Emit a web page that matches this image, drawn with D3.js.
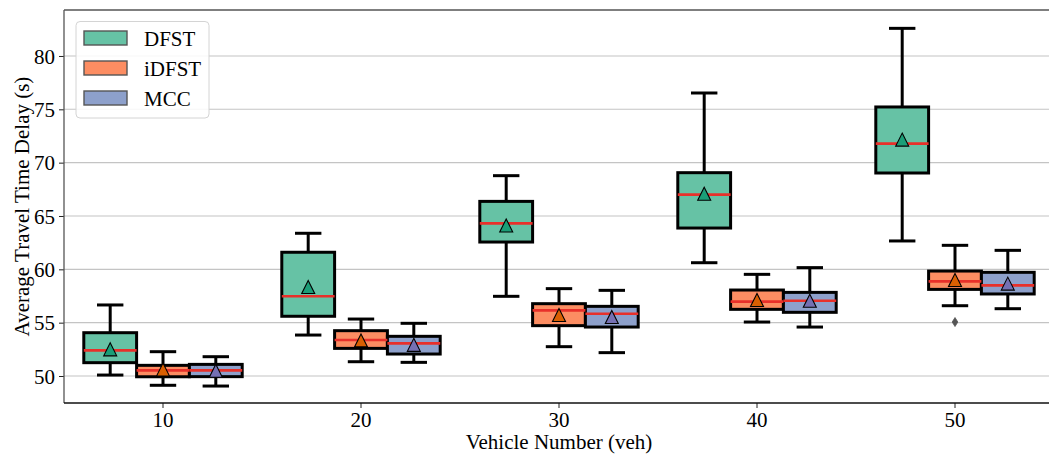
<!DOCTYPE html>
<html>
<head>
<meta charset="utf-8">
<script src="https://cdn.jsdelivr.net/npm/d3@7"></script>
<style>
  html, body { margin: 0; padding: 0; background: #fff; }
  svg { display: block; }
  text { font-family: "Liberation Serif", "Times New Roman", serif; fill: #000; }
</style>
</head>
<body>
<svg id="chart" width="1049" height="459"></svg>
<script>
// ---------- data ----------
const categories = ["10", "20", "30", "40", "50"];
const seriesNames = ["DFST", "iDFST", "MCC"];
const boxColors = ["#66c2a5", "#fc8d62", "#8da0cb"];
const meanColors = ["#1b9e77", "#d95f02", "#7570b3"];
const yTicks = [50, 55, 60, 65, 70, 75, 80];

// each array: [DFST, iDFST, MCC] x categories
const whiskerLow = [
  [50.09, 53.84, 57.47, 60.62, 62.66],
  [49.13, 51.34, 52.75, 55.06, 56.59],
  [49.06, 51.28, 52.19, 54.59, 56.31]
];
const q1 = [
  [51.25, 55.60, 62.56, 63.87, 69.03],
  [49.93, 52.59, 54.72, 56.25, 58.12],
  [49.94, 52.06, 54.59, 55.97, 57.69]
];
const medians = [
  [52.40, 57.47, 64.31, 67.00, 71.78],
  [50.53, 53.37, 56.15, 56.97, 58.87],
  [50.53, 53.06, 55.84, 57.06, 58.50]
];
const q3 = [
  [54.06, 61.60, 66.37, 69.06, 75.22],
  [51.00, 54.25, 56.78, 58.06, 59.84],
  [51.09, 53.72, 56.53, 57.84, 59.72]
];
const whiskerHigh = [
  [56.66, 63.38, 68.78, 76.53, 82.59],
  [52.28, 55.34, 58.19, 59.53, 62.25],
  [51.81, 54.94, 58.03, 60.16, 61.78]
];
const means = [
  [52.50, 58.34, 64.11, 67.08, 72.16],
  [50.60, 53.34, 55.72, 57.12, 59.00],
  [50.50, 52.92, 55.53, 57.06, 58.66]
];
// outliers: [seriesIndex, categoryIndex, value]
const outliers = [[1, 4, 55.06]];

// ---------- layout ----------
const svg = d3.select("#chart");
const L = 64, R = 1054, T = 10, B = 403;

const x = d3.scaleBand().domain(categories).range([L, R]).paddingInner(0).paddingOuter(0);
const band = x.bandwidth();
const xs = d3.scaleBand().domain(seriesNames).range([0.1 * band, 0.9 * band]).paddingInner(0).paddingOuter(0);
const y = d3.scaleLinear().domain([47.47, 84.31]).range([B, T]);

// gridlines
svg.append("g").selectAll("line").data(yTicks).join("line")
  .attr("x1", L).attr("x2", R)
  .attr("y1", d => y(d)).attr("y2", d => y(d))
  .attr("stroke", "#c4c4c4").attr("stroke-width", 1.1);

// boxes
const boxes = [];
seriesNames.forEach((s, si) => {
  categories.forEach((c, ci) => {
    boxes.push({ si, ci, s, c,
      lo: whiskerLow[si][ci], q1: q1[si][ci], med: medians[si][ci],
      q3: q3[si][ci], hi: whiskerHigh[si][ci], mean: means[si][ci] });
  });
});

const bw = xs.bandwidth();
const cx = d => x(d.c) + xs(d.s) + bw / 2;
const gBox = svg.append("g");
const lw = 3;

boxes.forEach(d => {
  const g = gBox.append("g");
  const xc = cx(d);
  // whiskers
  g.append("line").attr("x1", xc).attr("x2", xc).attr("y1", y(d.q1)).attr("y2", y(d.lo))
    .attr("stroke", "#000").attr("stroke-width", lw);
  g.append("line").attr("x1", xc).attr("x2", xc).attr("y1", y(d.q3)).attr("y2", y(d.hi))
    .attr("stroke", "#000").attr("stroke-width", lw);
  // caps
  [d.lo, d.hi].forEach(v => {
    g.append("line").attr("x1", xc - bw / 4).attr("x2", xc + bw / 4)
      .attr("y1", y(v)).attr("y2", y(v))
      .attr("stroke", "#000").attr("stroke-width", lw);
  });
  // box
  g.append("rect").attr("x", xc - bw / 2).attr("width", bw)
    .attr("y", y(d.q3)).attr("height", y(d.q1) - y(d.q3))
    .attr("fill", boxColors[d.si]).attr("stroke", "#000").attr("stroke-width", lw);
});
// medians
boxes.forEach(d => {
  const xc = cx(d);
  gBox.append("line").attr("x1", xc - bw / 2).attr("x2", xc + bw / 2)
    .attr("y1", y(d.med)).attr("y2", y(d.med))
    .attr("stroke", "#e8302a").attr("stroke-width", 2.6);
});
// outliers (thin diamonds)
outliers.forEach(([si, ci, v]) => {
  const xc = x(categories[ci]) + xs(seriesNames[si]) + bw / 2;
  const yc = y(v);
  gBox.append("path")
    .attr("d", `M${xc},${yc - 4.5}L${xc + 2.8},${yc}L${xc},${yc + 4.5}L${xc - 2.8},${yc}Z`)
    .attr("fill", "#555").attr("stroke", "#555").attr("stroke-width", 0.8);
});
// means (triangles)
boxes.forEach(d => {
  const xc = cx(d), yc = y(d.mean), h = 6.5;
  gBox.append("path")
    .attr("d", `M${xc},${yc - h}L${xc + h},${yc + h}L${xc - h},${yc + h}Z`)
    .attr("fill", meanColors[d.si]).attr("stroke", "#000").attr("stroke-width", 1.1);
});

// axes
const yAxis = svg.append("g").attr("transform", `translate(${L},0)`)
  .call(d3.axisLeft(y).tickValues(yTicks).tickSize(5).tickPadding(4));
const xAxis = svg.append("g").attr("transform", `translate(0,${B})`)
  .call(d3.axisBottom(x).tickSize(5).tickPadding(4));
[yAxis, xAxis].forEach(a => {
  a.select(".domain").remove();
  a.selectAll(".tick line").attr("stroke", "#222").attr("stroke-width", 1);
  a.selectAll(".tick text").attr("font-size", 21).attr("font-family", "Liberation Serif");
});
yAxis.selectAll(".tick text").attr("dy", "0.34em");
xAxis.selectAll(".tick text").attr("dy", "0.71em");

// spines
svg.append("line").attr("x1", L).attr("x2", R).attr("y1", T).attr("y2", T)
  .attr("stroke", "#555").attr("stroke-width", 1.3);
svg.append("line").attr("x1", L).attr("x2", L).attr("y1", T).attr("y2", B)
  .attr("stroke", "#555").attr("stroke-width", 1.3);
svg.append("line").attr("x1", L).attr("x2", R).attr("y1", B).attr("y2", B)
  .attr("stroke", "#111").attr("stroke-width", 1.5);

// axis labels
svg.append("text").attr("x", (L + R) / 2).attr("y", 449)
  .attr("text-anchor", "middle").attr("font-size", 21).text("Vehicle Number (veh)");
svg.append("text").attr("transform", `translate(29,${(T + B) / 2}) rotate(-90)`)
  .attr("text-anchor", "middle").attr("font-size", 21).text("Average Travel Time Delay (s)");

// legend
const lg = svg.append("g");
lg.append("rect").attr("x", 76).attr("y", 21.5).attr("width", 133).attr("height", 96.5)
  .attr("rx", 4).attr("fill", "#fff").attr("fill-opacity", 0.85)
  .attr("stroke", "#d4d4d4").attr("stroke-width", 1);
seriesNames.forEach((s, i) => {
  const yy = 31 + i * 30;
  lg.append("rect").attr("x", 84).attr("y", yy).attr("width", 43).attr("height", 14)
    .attr("fill", boxColors[i]).attr("stroke", "#555").attr("stroke-width", 1.4);
  lg.append("text").attr("x", 144).attr("y", yy + 14.5).attr("font-size", 21).text(s);
});
</script>
</body>
</html>
